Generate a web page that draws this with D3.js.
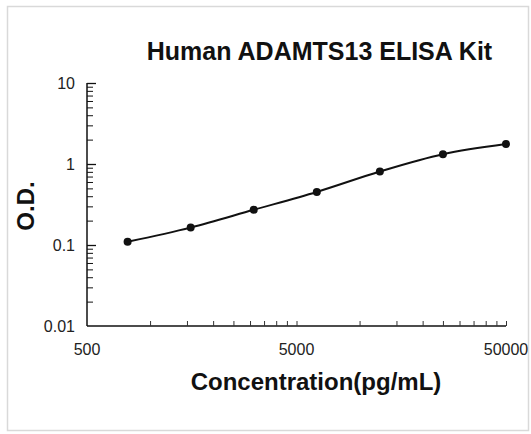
<!DOCTYPE html>
<html>
<head>
<meta charset="utf-8">
<script src="https://cdn.jsdelivr.net/npm/d3@7"></script>
<style>
  body { margin: 0; background: #fff; }
  text { font-family: "Liberation Sans", Arial, sans-serif; }
  .tick-label { font-size: 16px; fill: #222; }
</style>
</head>
<body>
<div class="graph"></div>
<script>
// standard curve data
var concentrations = [781.25, 1562.5, 3125, 6250, 12500, 25000, 50000];
var odValues = [0.11, 0.164, 0.272, 0.452, 0.807, 1.32, 1.76];

var xTickLabels = [500, 5000, 50000];
var yTickLabels = [0.01, 0.1, 1, 10];

var width = 531, height = 434;

var x = d3.scaleLog().domain([500, 50000]).range([87, 506]),
    y = d3.scaleLog().domain([0.01, 10]).range([326, 83]);

var svg = d3.select('.graph')
            .append('svg')
            .attr('width', width)
            .attr('height', height);

// outer frame
svg.append('rect')
   .attr('x', 7.5).attr('y', 6.5)
   .attr('width', 521).attr('height', 424)
   .attr('fill', '#fff')
   .attr('stroke', '#d9d9d9')
   .attr('stroke-width', 1.5);

svg.append('text')
   .attr('x', 319.5)
   .attr('y', 60)
   .attr('text-anchor', 'middle')
   .style('font-size', '25px')
   .style('font-weight', 'bold')
   .attr('fill', '#111')
   .text('Human ADAMTS13 ELISA Kit');

// minor ticks: multiples of 500 up to 5000, then multiples of 5000
var xMinor = [];
[500, 5000].forEach(function(step) {
  for (var k = 2; k <= 10; k++) xMinor.push(step * k);
});

var xAxis = d3.axisTop(x)
              .tickValues(xMinor)
              .tickSize(5)
              .tickFormat('');

svg.append('g')
   .attr('transform', 'translate(0,' + y(0.01) + ')')
   .call(xAxis)
   .call(function(g) {
     g.select('.domain').attr('d', 'M' + x(500) + ',0H' + x(50000)).attr('stroke', '#111').attr('stroke-width', 1.5);
     g.selectAll('.tick line').attr('stroke', '#333');
   });

svg.selectAll('.x-label')
   .data(xTickLabels)
   .enter()
   .append('text')
   .attr('class', 'tick-label')
   .attr('x', function(d) { return x(d); })
   .attr('y', y(0.01) + 29)
   .attr('text-anchor', 'middle')
   .text(function(d) { return d; });

// y axis: minor ticks 2..9 of each decade, majors at decades
var yMinor = [];
[0.01, 0.1, 1].forEach(function(base) {
  for (var k = 2; k <= 9; k++) yMinor.push(base * k);
});

var yAxisMinor = d3.axisRight(y).tickValues(yMinor).tickSize(6).tickFormat('');
var yAxisMajor = d3.axisRight(y).tickValues(yTickLabels.slice(1)).tickSize(9).tickFormat('');

svg.append('g')
   .attr('transform', 'translate(' + x(500) + ',0)')
   .call(yAxisMinor)
   .call(function(g) {
     g.select('.domain').attr('d', 'M0,' + y(10) + 'V' + y(0.01)).attr('stroke', '#111').attr('stroke-width', 1.5);
     g.selectAll('.tick line').attr('stroke', '#111');
   });

svg.append('g')
   .attr('transform', 'translate(' + x(500) + ',0)')
   .call(yAxisMajor)
   .call(function(g) {
     g.select('.domain').remove();
     g.selectAll('.tick line').attr('stroke', '#111').attr('stroke-width', 1.3);
   });

svg.selectAll('.y-label')
   .data(yTickLabels)
   .enter()
   .append('text')
   .attr('class', 'tick-label')
   .attr('x', 75)
   .attr('y', function(d) { return y(d) + 6; })
   .attr('text-anchor', 'end')
   .text(function(d) { return d; });

svg.append('text')
   .attr('transform', 'translate(34,206) rotate(-90)')
   .attr('text-anchor', 'middle')
   .style('font-size', '24px')
   .style('font-weight', 'bold')
   .attr('fill', '#111')
   .text('O.D.');

svg.append('text')
   .attr('x', 316)
   .attr('y', 390)
   .attr('text-anchor', 'middle')
   .style('font-size', '24px')
   .style('font-weight', 'bold')
   .attr('fill', '#111')
   .text('Concentration(pg/mL)');

var points = concentrations.map(function(c, i) { return [c, odValues[i]]; });

var line = d3.line()
             .x(function(d) { return x(d[0]); })
             .y(function(d) { return y(d[1]); })
             .curve(d3.curveCatmullRom.alpha(0.5));

svg.append('path')
   .datum(points)
   .attr('d', line)
   .attr('fill', 'none')
   .attr('stroke', '#111')
   .attr('stroke-width', 2);

svg.selectAll('.dot')
   .data(points)
   .enter()
   .append('circle')
   .attr('cx', function(d) { return x(d[0]); })
   .attr('cy', function(d) { return y(d[1]); })
   .attr('r', 4)
   .attr('fill', '#111');
</script>
</body>
</html>
